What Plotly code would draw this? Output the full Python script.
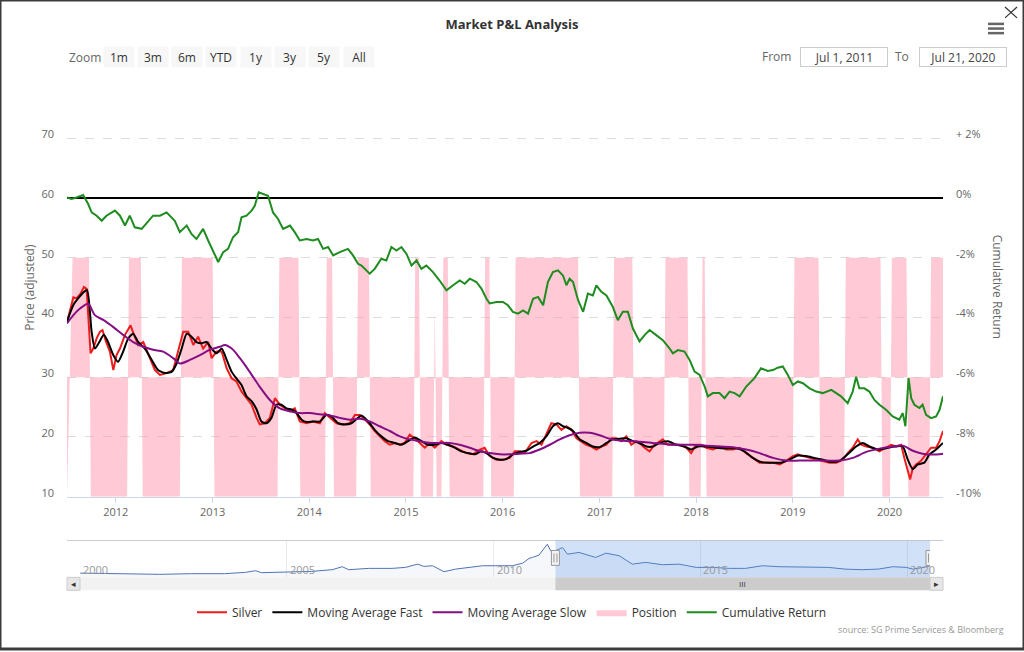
"""
Market P&L Analysis: silver price, moving averages, position and cumulative return
(Highcharts-stock-like layout rebuilt in Plotly)
"""

import plotly.graph_objects as go

# ─────────────────────────────────────────────
# Data
# ─────────────────────────────────────────────

silver = [
    ("2011-07-01", 39.2), ("2011-07-25", 43.4), ("2011-08-06", 43.2), ("2011-08-21", 44.0),
    ("2011-09-03", 45.1), ("2011-09-13", 44.8), ("2011-09-28", 34.0), ("2011-10-08", 34.8),
    ("2011-10-21", 36.5), ("2011-11-02", 37.6), ("2011-11-12", 37.9), ("2011-11-25", 36.0),
    ("2011-12-10", 34.3), ("2011-12-23", 31.2),
    ("2012-01-04", 33.7), ("2012-01-17", 34.8), ("2012-02-05", 37.1), ("2012-02-26", 38.7),
    ("2012-03-10", 37.1), ("2012-03-26", 35.4), ("2012-04-14", 35.9), ("2012-05-09", 33.2),
    ("2012-05-28", 31.2), ("2012-06-16", 30.4), ("2012-07-11", 30.7), ("2012-08-05", 31.2),
    ("2012-08-24", 34.3), ("2012-09-12", 37.6), ("2012-10-01", 37.6), ("2012-10-20", 35.4),
    ("2012-11-07", 36.8), ("2012-11-26", 34.8), ("2012-12-15", 35.9), ("2012-12-28", 33.2),
    ("2013-01-16", 34.3), ("2013-02-04", 34.3), ("2013-02-23", 31.5), ("2013-03-14", 29.8),
    ("2013-04-01", 29.3), ("2013-04-20", 27.6), ("2013-05-09", 26.5), ("2013-05-28", 25.4),
    ("2013-06-16", 23.2), ("2013-06-28", 22.1), ("2013-07-17", 22.3), ("2013-08-05", 23.2),
    ("2013-08-24", 26.5), ("2013-09-12", 25.4), ("2013-10-01", 24.8), ("2013-10-20", 24.3),
    ("2013-11-07", 24.8), ("2013-11-26", 22.6), ("2013-12-22", 22.3),
    ("2014-01-15", 22.6), ("2014-02-10", 22.3), ("2014-03-01", 24.0), ("2014-03-20", 23.2),
    ("2014-04-14", 22.3), ("2014-05-09", 22.1), ("2014-06-03", 22.3), ("2014-06-22", 23.7),
    ("2014-07-11", 23.7), ("2014-07-30", 22.9), ("2014-08-17", 22.1), ("2014-09-05", 21.0),
    ("2014-09-24", 20.1), ("2014-10-13", 19.3), ("2014-11-01", 18.7), ("2014-11-20", 19.0),
    ("2014-12-09", 18.7), ("2014-12-27", 19.0),
    ("2015-01-15", 20.4), ("2015-02-03", 19.8), ("2015-02-22", 19.0), ("2015-03-13", 18.2),
    ("2015-04-01", 19.0), ("2015-04-20", 18.2), ("2015-05-15", 19.3), ("2015-06-03", 18.7),
    ("2015-06-28", 18.4), ("2015-07-23", 17.9), ("2015-08-17", 17.3), ("2015-09-11", 17.1),
    ("2015-10-07", 17.9), ("2015-10-25", 18.2), ("2015-11-13", 16.8), ("2015-12-09", 16.2),
    ("2016-01-02", 16.2), ("2016-01-28", 16.5), ("2016-02-16", 17.6), ("2016-03-06", 17.6),
    ("2016-03-24", 17.3), ("2016-04-19", 19.0), ("2016-05-08", 19.3), ("2016-05-27", 18.7),
    ("2016-06-14", 20.4), ("2016-07-03", 22.3), ("2016-07-22", 22.1), ("2016-08-10", 21.2),
    ("2016-08-29", 21.8), ("2016-09-17", 21.2), ("2016-10-06", 19.8), ("2016-10-24", 19.3),
    ("2016-11-12", 18.7), ("2016-12-01", 18.4), ("2016-12-20", 17.9),
    ("2017-01-08", 18.4), ("2017-01-27", 18.7), ("2017-02-15", 19.8), ("2017-03-06", 19.8),
    ("2017-03-24", 19.3), ("2017-04-12", 20.1), ("2017-05-01", 18.7), ("2017-05-20", 19.3),
    ("2017-06-08", 18.7), ("2017-06-20", 18.2), ("2017-07-09", 17.6), ("2017-07-28", 18.7),
    ("2017-08-28", 19.6), ("2017-09-16", 18.7), ("2017-10-05", 18.7), ("2017-10-30", 18.7),
    ("2017-11-25", 18.2), ("2017-12-13", 17.3),
    ("2018-01-01", 18.7), ("2018-01-20", 18.7), ("2018-02-08", 18.2), ("2018-03-05", 17.9),
    ("2018-03-30", 18.4), ("2018-04-25", 17.9), ("2018-05-20", 17.9), ("2018-06-14", 18.2),
    ("2018-07-09", 17.3), ("2018-08-03", 16.5), ("2018-08-28", 15.7), ("2018-09-23", 15.7),
    ("2018-10-18", 15.7), ("2018-11-12", 15.4), ("2018-12-07", 16.0),
    ("2019-01-01", 16.8), ("2019-01-20", 17.1), ("2019-02-08", 16.8), ("2019-03-05", 16.5),
    ("2019-03-30", 16.2), ("2019-04-24", 16.0), ("2019-05-19", 15.7), ("2019-06-14", 15.7),
    ("2019-07-09", 16.2), ("2019-07-27", 17.3), ("2019-08-15", 18.2), ("2019-09-03", 19.6),
    ("2019-09-16", 18.7), ("2019-10-05", 18.4), ("2019-10-30", 18.2), ("2019-11-24", 17.6),
    ("2019-12-19", 18.2),
    ("2020-01-07", 18.7), ("2020-01-26", 18.4), ("2020-02-14", 18.7), ("2020-02-26", 16.5),
    ("2020-03-10", 14.3), ("2020-03-19", 12.9), ("2020-03-29", 14.8), ("2020-04-10", 15.4),
    ("2020-04-29", 16.0), ("2020-05-18", 17.1), ("2020-06-06", 18.2), ("2020-06-25", 18.2),
    ("2020-07-08", 19.3), ("2020-07-21", 21.0),
]

ma_fast = [
    ("2011-07-01", 39.3), ("2011-07-25", 42.1), ("2011-08-12", 43.2), ("2011-09-03", 44.3),
    ("2011-09-15", 44.6), ("2011-10-02", 37.6), ("2011-10-14", 34.8), ("2011-10-31", 35.9),
    ("2011-11-17", 37.1), ("2011-12-03", 35.9), ("2011-12-23", 33.7),
    ("2012-01-10", 32.6), ("2012-01-29", 34.3), ("2012-02-17", 36.5), ("2012-03-07", 37.3),
    ("2012-03-26", 35.9), ("2012-04-20", 34.8), ("2012-05-16", 32.9), ("2012-06-09", 31.2),
    ("2012-07-05", 30.7), ("2012-07-30", 30.9), ("2012-08-18", 32.3), ("2012-09-06", 34.8),
    ("2012-09-25", 37.3), ("2012-10-13", 36.8), ("2012-11-01", 35.9), ("2012-11-20", 35.7),
    ("2012-12-09", 35.9), ("2012-12-28", 34.8),
    ("2013-01-16", 34.0), ("2013-02-04", 34.8), ("2013-02-23", 32.9), ("2013-03-14", 30.9),
    ("2013-04-01", 29.8), ("2013-04-20", 28.7), ("2013-05-09", 26.8), ("2013-05-28", 26.0),
    ("2013-06-16", 24.6), ("2013-07-04", 22.6), ("2013-07-23", 22.3), ("2013-08-11", 23.2),
    ("2013-08-30", 25.4), ("2013-09-18", 25.4), ("2013-10-07", 24.8), ("2013-10-26", 24.6),
    ("2013-11-14", 24.0), ("2013-12-03", 22.9), ("2013-12-22", 22.5),
    ("2014-01-15", 22.6), ("2014-02-10", 22.6), ("2014-03-07", 23.7), ("2014-03-26", 23.4),
    ("2014-04-20", 22.3), ("2014-05-15", 22.1), ("2014-06-09", 22.3), ("2014-06-28", 23.0),
    ("2014-07-17", 23.6), ("2014-08-11", 22.6), ("2014-09-05", 21.2), ("2014-09-30", 20.1),
    ("2014-10-25", 19.3), ("2014-11-20", 19.0), ("2014-12-15", 18.7),
    ("2015-01-09", 19.3), ("2015-02-03", 19.9), ("2015-02-28", 19.3), ("2015-03-25", 18.7),
    ("2015-04-20", 18.7), ("2015-05-15", 19.0), ("2015-06-09", 18.7), ("2015-07-04", 18.2),
    ("2015-07-29", 17.6), ("2015-08-23", 17.3), ("2015-09-18", 17.1), ("2015-10-13", 17.6),
    ("2015-11-01", 17.3), ("2015-11-26", 16.5), ("2015-12-21", 16.2),
    ("2016-01-15", 16.3), ("2016-02-09", 17.1), ("2016-03-06", 17.5), ("2016-03-31", 17.7),
    ("2016-04-25", 18.4), ("2016-05-20", 19.0), ("2016-06-14", 20.1), ("2016-07-09", 21.8),
    ("2016-07-28", 22.3), ("2016-08-16", 21.8), ("2016-09-04", 21.5), ("2016-09-23", 21.0),
    ("2016-10-18", 19.6), ("2016-11-12", 19.0), ("2016-12-07", 18.4),
    ("2017-01-01", 18.3), ("2017-01-27", 19.0), ("2017-02-20", 19.6), ("2017-03-17", 19.7),
    ("2017-04-12", 19.8), ("2017-05-07", 19.3), ("2017-06-01", 19.0), ("2017-06-27", 18.4),
    ("2017-07-21", 18.4), ("2017-08-15", 19.0), ("2017-09-16", 19.3), ("2017-10-18", 18.7),
    ("2017-11-18", 18.4), ("2017-12-13", 17.9),
    ("2018-01-07", 18.4), ("2018-02-08", 18.4), ("2018-03-18", 18.2), ("2018-04-25", 18.1),
    ("2018-06-01", 18.1), ("2018-07-02", 17.6), ("2018-08-03", 16.5), ("2018-09-03", 15.8),
    ("2018-10-11", 15.7), ("2018-11-18", 15.7), ("2018-12-19", 16.2),
    ("2019-01-20", 16.9), ("2019-02-20", 16.8), ("2019-03-23", 16.5), ("2019-04-24", 16.2),
    ("2019-05-26", 15.8), ("2019-06-26", 16.0), ("2019-07-27", 17.1), ("2019-08-28", 18.4),
    ("2019-09-22", 19.0), ("2019-10-17", 18.4), ("2019-11-18", 17.9), ("2019-12-19", 18.1),
    ("2020-01-20", 18.4), ("2020-02-20", 18.4), ("2020-03-10", 16.2), ("2020-03-29", 14.6),
    ("2020-04-17", 15.4), ("2020-05-12", 15.7), ("2020-05-31", 17.1), ("2020-06-25", 17.9),
    ("2020-07-21", 19.0),
]

ma_slow = [
    ("2011-07-01", 39.0), ("2011-07-25", 40.4), ("2011-08-19", 41.5), ("2011-09-19", 42.3),
    ("2011-10-14", 40.4), ("2011-11-15", 39.6), ("2011-12-23", 38.4),
    ("2012-01-29", 37.1), ("2012-03-07", 35.9), ("2012-04-14", 35.1), ("2012-05-21", 34.6),
    ("2012-06-28", 34.3), ("2012-08-05", 33.2), ("2012-08-30", 32.3), ("2012-10-07", 32.9),
    ("2012-11-14", 33.7), ("2012-12-21", 34.6),
    ("2013-01-28", 35.1), ("2013-02-16", 35.4), ("2013-03-14", 34.8), ("2013-04-14", 33.2),
    ("2013-05-21", 30.9), ("2013-06-28", 28.4), ("2013-08-05", 26.2), ("2013-09-12", 24.8),
    ("2013-10-20", 24.3), ("2013-11-26", 24.0),
    ("2014-01-03", 24.0), ("2014-02-10", 23.8), ("2014-03-20", 23.6), ("2014-04-26", 23.2),
    ("2014-06-03", 22.9), ("2014-07-11", 23.05), ("2014-08-17", 22.6), ("2014-09-24", 21.8),
    ("2014-11-01", 21.0), ("2014-12-09", 20.1),
    ("2015-01-15", 19.6), ("2015-02-22", 19.3), ("2015-04-01", 19.0), ("2015-05-08", 19.0),
    ("2015-06-15", 19.0), ("2015-07-23", 18.7), ("2015-08-30", 18.2), ("2015-10-07", 17.6),
    ("2015-11-13", 17.3), ("2015-12-21", 17.1),
    ("2016-01-28", 17.1), ("2016-03-06", 17.2), ("2016-04-12", 17.3), ("2016-05-20", 17.9),
    ("2016-06-27", 18.7), ("2016-08-04", 19.6), ("2016-09-10", 20.3), ("2016-10-18", 20.7),
    ("2016-11-25", 20.7),
    ("2017-01-01", 20.3), ("2017-02-08", 19.7), ("2017-03-17", 19.4), ("2017-04-24", 19.3),
    ("2017-06-01", 19.2), ("2017-07-21", 19.0), ("2017-09-09", 18.8), ("2017-10-30", 18.7),
    ("2017-12-19", 18.7),
    ("2018-02-08", 18.55), ("2018-03-30", 18.4), ("2018-05-20", 18.3), ("2018-07-09", 17.9),
    ("2018-08-28", 17.3), ("2018-10-18", 16.5), ("2018-12-07", 16.05),
    ("2019-01-27", 16.05), ("2019-03-17", 16.05), ("2019-05-07", 16.05), ("2019-06-26", 16.05),
    ("2019-08-15", 16.5), ("2019-10-05", 17.5), ("2019-11-24", 18.05),
    ("2020-01-13", 18.4), ("2020-02-20", 18.55), ("2020-03-29", 17.7), ("2020-05-05", 17.2),
    ("2020-06-12", 17.05), ("2020-07-21", 17.2),
]

# cumulative return, in percent
cum_return = [
    ("2011-07-01", 0.02), ("2011-07-18", -0.03), ("2011-08-06", 0.02), ("2011-08-31", 0.10),
    ("2011-09-19", -0.20), ("2011-10-02", -0.48), ("2011-10-21", -0.59), ("2011-11-09", -0.76),
    ("2011-11-27", -0.59), ("2011-12-29", -0.42),
    ("2012-01-17", -0.59), ("2012-02-05", -0.92), ("2012-02-23", -0.59), ("2012-03-13", -0.98),
    ("2012-04-08", -1.03), ("2012-05-03", -0.76), ("2012-05-21", -0.59), ("2012-06-16", -0.59),
    ("2012-07-11", -0.48), ("2012-08-11", -0.76), ("2012-08-30", -1.14), ("2012-09-25", -0.92),
    ("2012-10-13", -1.20), ("2012-11-01", -1.37), ("2012-11-26", -1.03), ("2012-12-15", -1.42),
    ("2013-01-03", -1.81), ("2013-01-22", -2.14), ("2013-02-10", -1.81), ("2013-02-28", -1.70),
    ("2013-03-19", -1.31), ("2013-04-07", -1.14), ("2013-04-20", -0.64), ("2013-05-09", -0.59),
    ("2013-05-28", -0.42), ("2013-06-09", -0.26), ("2013-06-24", 0.19), ("2013-07-10", 0.13),
    ("2013-07-29", 0.08), ("2013-08-17", -0.48), ("2013-09-05", -0.70), ("2013-09-24", -1.03),
    ("2013-10-20", -0.92), ("2013-11-07", -1.14), ("2013-11-26", -1.42), ("2013-12-22", -1.37),
    ("2014-01-15", -1.42), ("2014-02-03", -1.37), ("2014-02-22", -1.70), ("2014-03-13", -1.64),
    ("2014-04-01", -1.92), ("2014-04-26", -1.81), ("2014-05-27", -1.70), ("2014-06-15", -1.92),
    ("2014-07-04", -2.20), ("2014-07-17", -2.26), ("2014-08-17", -2.53), ("2014-09-05", -2.37),
    ("2014-09-30", -2.03), ("2014-10-19", -2.09), ("2014-11-07", -1.64), ("2014-11-26", -1.76),
    ("2014-12-15", -1.64),
    ("2015-01-03", -1.87), ("2015-01-22", -2.26), ("2015-02-10", -2.09), ("2015-02-28", -2.37),
    ("2015-03-19", -2.26), ("2015-04-13", -2.48), ("2015-05-08", -2.76), ("2015-06-03", -3.09),
    ("2015-06-28", -2.92), ("2015-07-23", -2.76), ("2015-08-11", -2.87), ("2015-08-30", -2.70),
    ("2015-09-24", -2.81), ("2015-10-13", -3.03), ("2015-11-01", -3.37), ("2015-11-13", -3.53),
    ("2015-12-09", -3.48),
    ("2016-01-02", -3.48), ("2016-01-21", -3.59), ("2016-02-09", -3.81), ("2016-02-28", -3.87),
    ("2016-03-18", -3.76), ("2016-04-06", -3.87), ("2016-04-25", -3.37), ("2016-05-14", -3.31),
    ("2016-06-02", -3.59), ("2016-06-20", -2.81), ("2016-07-09", -2.48), ("2016-07-28", -2.42),
    ("2016-08-16", -2.59), ("2016-08-29", -2.92), ("2016-09-10", -2.70), ("2016-09-23", -2.81),
    ("2016-10-12", -3.42), ("2016-10-31", -3.81), ("2016-11-18", -3.20), ("2016-12-07", -3.26),
    ("2016-12-20", -2.92),
    ("2017-01-08", -3.14), ("2017-01-27", -3.26), ("2017-02-20", -3.64), ("2017-03-11", -4.09),
    ("2017-03-30", -3.81), ("2017-04-18", -3.81), ("2017-05-07", -4.37), ("2017-06-01", -4.80),
    ("2017-06-20", -4.59), ("2017-07-09", -4.42), ("2017-08-03", -4.59), ("2017-08-28", -4.76),
    ("2017-09-22", -5.03), ("2017-10-05", -5.20), ("2017-10-24", -5.09), ("2017-11-18", -5.14),
    ("2017-12-07", -5.42), ("2017-12-26", -5.81),
    ("2018-01-14", -5.92), ("2018-02-02", -6.31), ("2018-02-14", -6.64), ("2018-03-05", -6.53),
    ("2018-03-30", -6.53), ("2018-04-18", -6.70), ("2018-05-07", -6.48), ("2018-05-26", -6.53),
    ("2018-06-14", -6.64), ("2018-07-09", -6.31), ("2018-08-09", -6.03), ("2018-09-03", -5.70),
    ("2018-09-28", -5.79), ("2018-10-18", -5.76), ("2018-11-05", -5.68), ("2018-11-24", -5.64),
    ("2018-12-13", -5.92),
    ("2019-01-01", -6.26), ("2019-01-20", -6.14), ("2019-02-08", -6.20), ("2019-03-05", -6.37),
    ("2019-03-30", -6.48), ("2019-04-24", -6.53), ("2019-05-26", -6.42), ("2019-06-14", -6.53),
    ("2019-07-02", -6.64), ("2019-07-27", -6.87), ("2019-08-15", -6.48), ("2019-08-28", -5.98),
    ("2019-09-09", -6.37), ("2019-09-28", -6.37), ("2019-10-17", -6.48), ("2019-11-05", -6.76),
    ("2019-11-24", -6.92), ("2019-12-19", -7.09),
    ("2020-01-13", -7.31), ("2020-02-07", -7.42), ("2020-02-20", -7.20), ("2020-03-01", -7.64),
    ("2020-03-13", -6.03), ("2020-03-23", -6.70), ("2020-04-04", -6.92), ("2020-04-23", -7.03),
    ("2020-05-05", -6.92), ("2020-05-18", -7.26), ("2020-06-06", -7.37), ("2020-06-25", -7.31),
    ("2020-07-08", -7.09), ("2020-07-21", -6.64),
]

# position: +1 long / -1 short
position = [
    ("2011-07-01", -1), ("2011-07-22", 1), ("2011-09-22", 1), ("2011-09-29", -1),
    ("2012-02-13", -1), ("2012-02-20", 1), ("2012-04-05", 1), ("2012-04-12", -1),
    ("2012-08-30", -1), ("2012-09-07", 1), ("2013-01-01", 1), ("2013-01-08", -1),
    ("2013-09-03", -1), ("2013-09-10", 1), ("2013-11-21", 1), ("2013-11-28", -1),
    ("2014-03-01", -1), ("2014-03-08", 1), ("2014-03-28", 1), ("2014-04-04", -1),
    ("2014-06-27", -1), ("2014-07-04", 1), ("2014-08-14", 1), ("2014-08-21", -1),
    ("2015-01-29", -1), ("2015-02-05", 1), ("2015-02-19", 1), ("2015-02-26", -1),
    ("2015-04-13", -1), ("2015-04-20", 0.6), ("2015-04-27", -1),
    ("2015-05-15", -1), ("2015-05-22", 1), ("2015-06-08", 1), ("2015-06-15", -1),
    ("2015-10-20", -1), ("2015-10-27", 1), ("2015-11-12", 1), ("2015-11-19", -1),
    ("2016-02-12", -1), ("2016-02-19", 1), ("2016-10-12", 1), ("2016-10-19", -1),
    ("2017-02-18", -1), ("2017-02-25", 1), ("2017-05-05", 1), ("2017-05-12", -1),
    ("2017-08-31", -1), ("2017-09-07", 1), ("2017-11-29", 1), ("2017-12-06", -1),
    ("2018-01-18", -1), ("2018-01-25", 1), ("2018-02-02", 1), ("2018-02-09", -1),
    ("2018-12-31", -1), ("2019-01-07", 1), ("2019-04-08", 1), ("2019-04-15", -1),
    ("2019-07-13", -1), ("2019-07-20", 1), ("2019-11-28", 1), ("2019-12-05", -1),
    ("2020-01-03", -1), ("2020-01-10", 1), ("2020-03-05", 1), ("2020-03-12", -1),
    ("2020-05-30", -1), ("2020-06-06", 1), ("2020-07-21", 1),
]

# long history shown in the navigator
navigator = [
    ("2000-01-03", 12.1), ("2001-02-06", 11.4), ("2001-12-01", 10.6), ("2002-09-10", 11.4),
    ("2003-07-01", 11.4), ("2004-01-01", 13.0), ("2004-04-01", 15.0), ("2004-05-20", 12.6),
    ("2004-12-20", 13.8), ("2005-08-10", 14.2), ("2006-02-05", 16.2), ("2006-05-05", 19.8),
    ("2006-07-01", 16.2), ("2006-12-25", 17.8), ("2007-07-20", 17.8), ("2007-11-15", 19.0),
    ("2008-03-01", 22.9), ("2008-04-25", 20.2), ("2008-07-10", 21.0), ("2008-10-20", 13.8),
    ("2009-01-30", 16.9), ("2009-05-25", 19.0), ("2009-09-25", 21.0), ("2010-01-20", 21.0),
    ("2010-06-15", 21.0), ("2010-09-15", 24.1), ("2010-11-10", 29.8), ("2010-12-10", 31.0),
    ("2011-02-05", 33.7), ("2011-04-20", 46.9), ("2011-05-20", 39.0), ("2011-07-01", 39.0),
    ("2011-09-01", 43.0), ("2011-10-15", 34.9), ("2012-01-25", 37.0), ("2012-06-20", 31.0),
    ("2012-09-20", 36.1), ("2013-01-15", 33.0), ("2013-05-10", 22.9), ("2013-09-05", 25.0),
    ("2014-02-01", 22.2), ("2014-06-28", 22.9), ("2014-11-25", 19.0), ("2015-04-20", 19.0),
    ("2015-09-15", 17.8), ("2016-02-05", 17.8), ("2016-07-01", 21.0), ("2016-11-25", 19.8),
    ("2017-04-20", 19.8), ("2017-09-15", 19.3), ("2018-02-05", 19.0), ("2018-07-01", 16.9),
    ("2018-11-25", 16.2), ("2019-04-20", 16.9), ("2019-08-28", 19.8), ("2019-12-25", 19.0),
    ("2020-02-20", 16.9), ("2020-05-25", 19.0), ("2020-07-21", 21.0),
]

range_from, range_to = "2011-07-01", "2020-07-21"
zoom_buttons = ["1m", "3m", "6m", "YTD", "1y", "3y", "5y", "All"]
price_ticks = [10, 20, 30, 40, 50, 60, 70, 80]
return_ticks = [-10, -8, -6, -4, -2, 0, 2]
return_labels = ["-10%", "-8%", "-6%", "-4%", "-2%", "0%", "+ 2%"]
nav_years = ["2000", "2005", "2010", "2015", "2020"]

# ─────────────────────────────────────────────
# Geometry helpers (figure is 1024 x 652, zero margins)
# ─────────────────────────────────────────────
W, H = 1024, 652


def px(x):
    return x / W


def py(y):
    return 1 - y / H


FONT = "Open Sans, DejaVu Sans, sans-serif"
GREY = "#666666"

fig = go.Figure()

# 仓位背景 (base axis, so it is drawn under every line; translucent so grid shows)
fig.add_trace(go.Scatter(
    x=[d for d, _ in position], y=[v for _, v in position],
    yaxis="y", mode="lines", fill="tozeroy",
    fillcolor="rgba(255,150,172,0.5)", line=dict(width=0, color="#ffc0cb"),
    name="Position", legendrank=4, hoverinfo="skip"
))

fig.add_trace(go.Scatter(
    x=[d for d, _ in cum_return], y=[v for _, v in cum_return],
    yaxis="y2", mode="lines", line=dict(color="#1e8c1e", width=2),
    name="Cumulative Return", legendrank=5
))

fig.add_trace(go.Scatter(
    x=[d for d, _ in silver], y=[v for _, v in silver],
    yaxis="y3", mode="lines", line=dict(color="#ee1c1c", width=2),
    name="Silver", legendrank=1
))

fig.add_trace(go.Scatter(
    x=[d for d, _ in ma_fast], y=[v for _, v in ma_fast],
    yaxis="y3", mode="lines", line=dict(color="#000000", width=2, shape="spline", smoothing=0.6),
    name="Moving Average Fast", legendrank=2
))

fig.add_trace(go.Scatter(
    x=[d for d, _ in ma_slow], y=[v for _, v in ma_slow],
    yaxis="y3", mode="lines", line=dict(color="#850e85", width=2, shape="spline", smoothing=0.8),
    name="Moving Average Slow", legendrank=3
))

# navigator series
fig.add_trace(go.Scatter(
    x=[d for d, _ in navigator], y=[v for _, v in navigator],
    xaxis="x2", yaxis="y4", mode="lines", fill="tozeroy",
    fillcolor="rgba(51,92,173,0.05)", line=dict(color="#4f74b3", width=1),
    showlegend=False, hoverinfo="skip"
))

# ─────────────────────────────────────────────
# Shapes: navigator mask, scrollbar, handles, icons, frame
# ─────────────────────────────────────────────
shapes = [
    # navigator outline
    dict(type="line", xref="paper", yref="paper", x0=px(67), x1=px(943),
         y0=py(543), y1=py(543), line=dict(color="#cccccc", width=1)),
    # selected range mask
    dict(type="rect", xref="x2", yref="y4 domain", x0=range_from, x1=range_to,
         y0=0, y1=1, fillcolor="rgba(90,150,230,0.28)", line=dict(width=0)),
    # scrollbar track
    dict(type="rect", xref="paper", yref="paper", x0=px(67), x1=px(943),
         y0=py(593), y1=py(580), fillcolor="#f2f2f2", line=dict(width=0)),
    # scrollbar thumb
    dict(type="rect", xref="x2", yref="paper", x0=range_from, x1=range_to,
         y0=py(593), y1=py(580), fillcolor="#cccccc", line=dict(width=0)),
    # scrollbar buttons
    dict(type="rect", xref="paper", yref="paper", x0=px(67), x1=px(80),
         y0=py(593), y1=py(580), fillcolor="#e6e6e6", line=dict(color="#cccccc", width=1)),
    dict(type="rect", xref="paper", yref="paper", x0=px(930), x1=px(943),
         y0=py(593), y1=py(580), fillcolor="#e6e6e6", line=dict(color="#cccccc", width=1)),
]

# navigator handles
for d in (range_from, range_to):
    shapes.append(dict(type="rect", xref="x2", yref="paper", xsizemode="pixel", xanchor=d,
                       x0=-4, x1=4, y0=py(568), y1=py(553),
                       fillcolor="#f2f2f2", line=dict(color="#999999", width=1)))
    for off in (-1.5, 1.5):
        shapes.append(dict(type="line", xref="x2", yref="paper", xsizemode="pixel", xanchor=d,
                           x0=off, x1=off, y0=py(565), y1=py(556),
                           line=dict(color="#999999", width=1)))

# export menu icon (hamburger) and close cross
for yy in (24, 28.7, 33.3):
    shapes.append(dict(type="line", xref="paper", yref="paper", x0=px(988), x1=px(1004),
                       y0=py(yy), y1=py(yy), line=dict(color="#666666", width=2.5)))
shapes += [
    dict(type="line", xref="paper", yref="paper", x0=px(1005), x1=px(1017),
         y0=py(7), y1=py(18), line=dict(color="#333333", width=1.2)),
    dict(type="line", xref="paper", yref="paper", x0=px(1005), x1=px(1017),
         y0=py(18), y1=py(7), line=dict(color="#333333", width=1.2)),
    # window frame
    dict(type="rect", xref="paper", yref="paper", x0=0, x1=1, y0=0, y1=1,
         line=dict(color="#3c3c3c", width=3)),
]

# ─────────────────────────────────────────────
# Annotations: range selector, date inputs, scrollbar glyphs, titles
# ─────────────────────────────────────────────
annotations = [
    dict(text="Zoom", x=px(67), y=py(57.5), xanchor="left", yanchor="middle",
         font=dict(size=12, color=GREY)),
]
for i, lab in enumerate(zoom_buttons):
    annotations.append(dict(
        text=lab, x=px(118.5 + 34.3 * i), y=py(57), xanchor="center", yanchor="middle",
        width=30, height=20, bgcolor="#f7f7f7", borderpad=0,
        font=dict(size=12, color="#333333")
    ))

annotations += [
    dict(text="From", x=px(793), y=py(57), xanchor="right", yanchor="middle",
         font=dict(size=12, color=GREY)),
    dict(text="Jul 1, 2011", x=px(844), y=py(57), xanchor="center", yanchor="middle",
         width=86, height=18, bordercolor="#cccccc", borderwidth=1, borderpad=0,
         font=dict(size=12, color="#444444")),
    dict(text="To", x=px(911), y=py(57), xanchor="right", yanchor="middle",
         font=dict(size=12, color=GREY)),
    dict(text="Jul 21, 2020", x=px(963), y=py(57), xanchor="center", yanchor="middle",
         width=86, height=18, bordercolor="#cccccc", borderwidth=1, borderpad=0,
         font=dict(size=12, color="#444444")),
    # right axis title (reads top to bottom)
    dict(text="Cumulative Return", x=px(997), y=py(288), textangle=90,
         xanchor="center", yanchor="middle", font=dict(size=12, color=GREY)),
    # scrollbar glyphs
    dict(text="◂", x=px(73.5), y=py(586.5), xanchor="center", yanchor="middle",
         font=dict(size=9, color="#333333")),
    dict(text="▸", x=px(936.5), y=py(586.5), xanchor="center", yanchor="middle",
         font=dict(size=9, color="#333333")),
    dict(text="III", x=px(742.5), y=py(586.5), xanchor="center", yanchor="middle",
         font=dict(size=8, color="#333333")),
    dict(text="source: SG Prime Services & Bloomberg", x=px(1006), y=py(632),
         xanchor="right", yanchor="middle", font=dict(size=9, color="#999999")),
]
# navigator year labels
for yr in nav_years:
    annotations.append(dict(text=yr, xref="x2", x=f"{yr}-01-01", xanchor="left", xshift=1,
                            y=py(572), yanchor="middle",
                            font=dict(size=11, color="#999999")))
for a in annotations:
    a.setdefault("xref", "paper")
    a.setdefault("yref", "paper")
    a.setdefault("showarrow", False)

# ─────────────────────────────────────────────
# Layout
# ─────────────────────────────────────────────
main_domain = [py(499), py(79)]

fig.update_layout(
    width=W, height=H,
    margin=dict(l=0, r=0, t=0, b=0),
    paper_bgcolor="white", plot_bgcolor="rgba(0,0,0,0)",
    font=dict(family=FONT, size=11, color=GREY),
    title=dict(text="<b>Market P&L Analysis</b>", x=0.5, xanchor="center",
               y=py(24), yanchor="middle", font=dict(size=13, color="#333333")),
    showlegend=True,
    legend=dict(orientation="h", x=0.5, xanchor="center", y=py(615), yanchor="middle",
                font=dict(size=12, color="#333333"), itemwidth=30,
                bgcolor="rgba(0,0,0,0)"),
    xaxis=dict(
        domain=[px(67), px(943)], anchor="y", type="date",
        range=[range_from, range_to],
        tick0="2012-01-01", dtick="M12", tickformat="%Y",
        showgrid=False, zeroline=False,
        showline=True, linecolor="#ccd6eb", linewidth=1,
        ticks="outside", ticklen=5, tickcolor="#ccd6eb",
        tickfont=dict(size=11, color=GREY),
    ),
    # position axis (hidden): +1 fills 30→50, -1 fills 30→10 on the price scale
    yaxis=dict(domain=main_domain, anchor="x", range=[-1, 2.5], visible=False),
    yaxis2=dict(
        overlaying="y", anchor="x", side="right", range=[-10, 4],
        tickvals=return_ticks, ticktext=return_labels,
        showgrid=False, showline=False, ticks="",
        zeroline=True, zerolinecolor="#000000", zerolinewidth=2,
        ticklabelstandoff=12, ticklabelshift=-4,
        tickfont=dict(size=11, color=GREY),
    ),
    yaxis3=dict(
        overlaying="y", anchor="x", side="left", range=[10, 80],
        tickvals=price_ticks, ticktext=[str(v) if v < 80 else "" for v in price_ticks],
        showgrid=True, gridcolor="#dcdcdc", griddash="dash", gridwidth=1,
        zeroline=False, showline=False, ticks="",
        ticklabelstandoff=12, ticklabelshift=-4,
        tickfont=dict(size=11, color=GREY),
        title=dict(text="Price (adjusted)", font=dict(size=12, color=GREY), standoff=4),
    ),
    xaxis2=dict(
        domain=[px(80), px(930)], anchor="y4", type="date",
        range=["2000-01-01", range_to],
        tickvals=[f"{y}-01-01" for y in nav_years], showticklabels=False, ticks="",
        showgrid=True, gridcolor="#ebebeb", zeroline=False, showline=False,
    ),
    yaxis4=dict(domain=[py(580), py(543)], anchor="x2", range=[7, 51.4],
                visible=False, fixedrange=True),
    shapes=shapes,
    annotations=annotations,
)

# page fits the window exactly: no body margin, no scrolling, no modebar
fig.write_html(
    "out.html",
    config={"displayModeBar": False},
    post_script=(
        "document.documentElement.style.overflow='hidden';"
        "document.body.style.margin='0';"
        "document.body.style.overflow='hidden';"
        "document.body.style.height='652px';"
    ),
)
